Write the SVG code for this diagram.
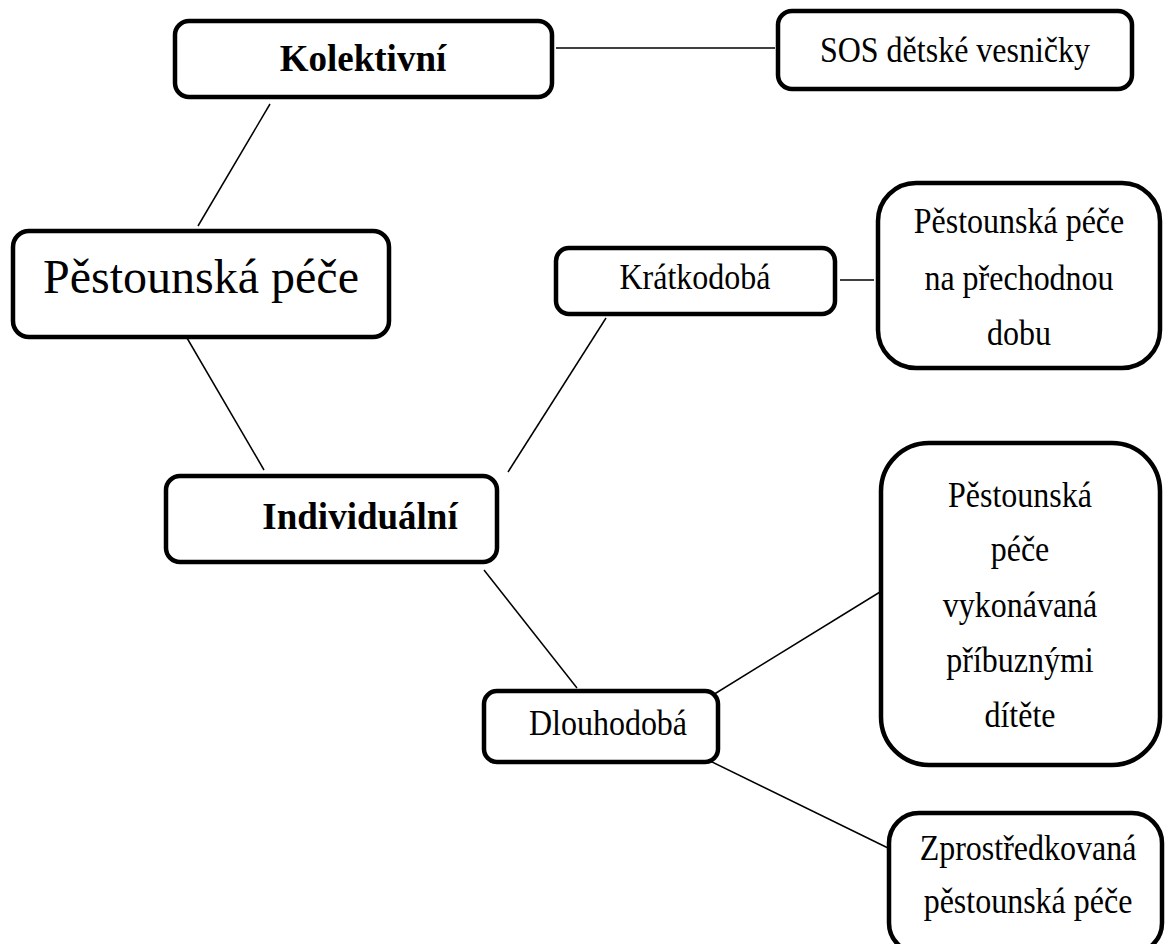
<svg xmlns="http://www.w3.org/2000/svg" width="1166" height="944" viewBox="0 0 1166 944">
<style>
.box{fill:#fff;stroke:#000;stroke-width:4.5}
.t{font-family:"Liberation Serif","Times New Roman",serif;font-size:32px;text-anchor:middle;fill:#000}
.b{font-weight:bold;font-size:37px}
.big{font-size:48px}
.con line{stroke:#000;stroke-width:1.5}
</style>
<rect width="1166" height="944" fill="#fff"/>
<g id="connectors" class="con">
<line x1="270" y1="104" x2="198" y2="226"/>
<line x1="187" y1="338" x2="264" y2="470"/>
<line x1="556" y1="48" x2="775" y2="48"/>
<line x1="508" y1="472" x2="606" y2="318"/>
<line x1="840" y1="280" x2="874" y2="280"/>
<line x1="484" y1="570" x2="577" y2="688"/>
<line x1="708" y1="698" x2="880" y2="592"/>
<line x1="708" y1="760" x2="888" y2="848"/>
</g>
<g id="kolektivni"><rect class="box" x="175" y="21" width="377" height="76" rx="14"/><text class="t b" x="363" y="71">Kolektivní</text></g>
<g id="sos"><rect class="box" x="778" y="11" width="354" height="78" rx="14"/><text class="t" transform="translate(955,62) scale(1,1.1)">SOS dětské vesničky</text></g>
<g id="pestounska"><rect class="box" x="13" y="231" width="376" height="106" rx="16"/><text class="t big" x="201" y="293">Pěstounská péče</text></g>
<g id="kratkodoba"><rect class="box" x="556" y="248" width="279" height="66" rx="13"/><text class="t" transform="translate(695,289) scale(1,1.1)">Krátkodobá</text></g>
<g id="prechodna"><rect class="box" x="878" y="183" width="282" height="185" rx="38"/><text class="t" transform="translate(1019,233) scale(1,1.1)">Pěstounská péče</text><text class="t" transform="translate(1019,290) scale(1,1.1)">na přechodnou</text><text class="t" transform="translate(1019,345) scale(1,1.1)">dobu</text></g>
<g id="individualni"><rect class="box" x="166" y="476" width="331" height="86" rx="14"/><text class="t b" x="360" y="529">Individuální</text></g>
<g id="pribuzni"><rect class="box" x="881" y="443" width="279" height="322" rx="48"/><text class="t" transform="translate(1020,507) scale(1,1.1)">Pěstounská</text><text class="t" transform="translate(1020,561) scale(1,1.1)">péče</text><text class="t" transform="translate(1020,617) scale(1,1.1)">vykonávaná</text><text class="t" transform="translate(1020,672) scale(1,1.1)">příbuznými</text><text class="t" transform="translate(1020,727) scale(1,1.1)">dítěte</text></g>
<g id="dlouhodoba"><rect class="box" x="484" y="691" width="234" height="71" rx="13"/><text class="t" transform="translate(608,735) scale(1,1.1)">Dlouhodobá</text></g>
<g id="zprostredkovana"><rect class="box" x="889" y="813" width="273" height="140" rx="30"/><text class="t" transform="translate(1028,860) scale(1,1.1)">Zprostředkovaná</text><text class="t" transform="translate(1028,913) scale(1,1.1)">pěstounská péče</text></g>
</svg>
